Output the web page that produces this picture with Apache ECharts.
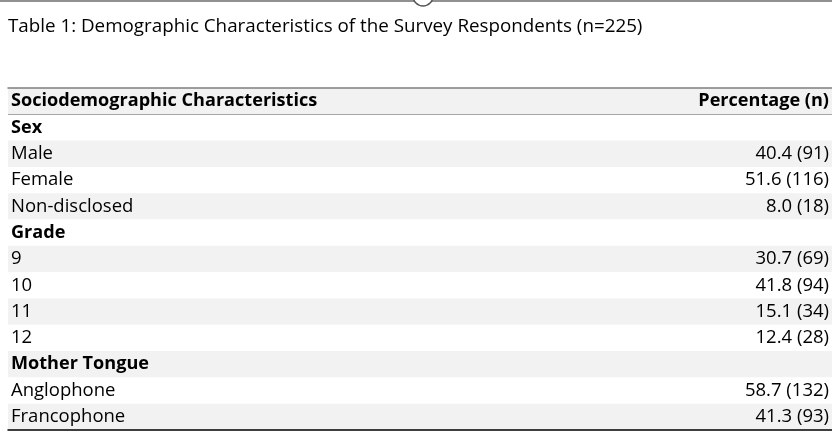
<!DOCTYPE html>
<html>
<head>
<meta charset="utf-8">
<script src="https://cdn.jsdelivr.net/npm/echarts@6/dist/echarts.min.js"></script>
<style>
html,body{margin:0;padding:0;background:#fff;}
#chart{width:832px;height:443px;}
</style>
</head>
<body>
<div id="chart"></div>
<script>
// ---- data ----
const titleText = 'Table 1: Demographic Characteristics of the Survey Respondents (n=225)';
const headerLeft = 'Sociodemographic Characteristics';
const headerRight = 'Percentage (n)';
const rowLabels = ['Sex', 'Male', 'Female', 'Non-disclosed', 'Grade', '9', '10', '11', '12', 'Mother Tongue', 'Anglophone', 'Francophone'];
const groupRows = ['Sex', 'Grade', 'Mother Tongue'];
const percentages = [null, 40.4, 51.6, 8.0, null, 30.7, 41.8, 15.1, 12.4, null, 58.7, 41.3];
const counts = [null, 91, 116, 18, null, 69, 94, 34, 28, null, 132, 93];

// ---- build ----
const leftCol = [headerLeft].concat(rowLabels);
const rightCol = [headerRight].concat(rowLabels.map((r, i) =>
  percentages[i] == null ? '' : percentages[i].toFixed(1) + ' (' + counts[i] + ')'));
const boldSet = new Set([headerLeft, headerRight].concat(groupRows));
const FONT = '"Open Sans", sans-serif';
const FS = 18.5;
const rich = {
  b: { fontFamily: FONT, fontSize: 18.1, fontWeight: 'bold', color: '#000' }
};
// only the rule under the header row is drawn
const ruleColors = leftCol.map((_, i) => i === 1 ? '#a6a6a6' : 'rgba(0,0,0,0)').concat(['rgba(0,0,0,0)']);

const chart = echarts.init(document.getElementById('chart'), null, { renderer: 'canvas' });
chart.setOption({
  animation: false,
  backgroundColor: '#fff',
  title: {
    text: titleText,
    left: 3,
    top: 12,
    textStyle: { fontFamily: FONT, fontSize: 18.8, fontWeight: 'normal', color: '#000' }
  },
  graphic: [
    { type: 'line', shape: { x1: 0, y1: 1, x2: 832, y2: 1 }, style: { stroke: '#6d6d6d', lineWidth: 1.5 } },
    { type: 'circle', shape: { cx: 423, cy: -4, r: 10 }, style: { fill: '#fff', stroke: '#555', lineWidth: 1.5 } }
  ],
  grid: { left: 8, right: 0, top: 88, bottom: 13, containLabel: false },
  xAxis: [
    { type: 'value', position: 'top', min: 0, max: 100,
      axisLine: { show: true, lineStyle: { color: '#7f7f7f', width: 1.5 } },
      axisTick: { show: false }, axisLabel: { show: false }, splitLine: { show: false } },
    { type: 'value', position: 'bottom', min: 0, max: 100,
      axisLine: { show: true, onZero: false, lineStyle: { color: '#000', width: 1.5 } },
      axisTick: { show: false }, axisLabel: { show: false }, splitLine: { show: false } }
  ],
  yAxis: [
    { type: 'category', inverse: true, position: 'left', data: leftCol,
      axisLine: { show: false }, axisTick: { show: false },
      axisLabel: {
        inside: true, margin: 3, align: 'left',
        fontFamily: FONT, fontSize: FS, color: '#000',
        formatter: v => boldSet.has(v) ? '{b|' + v + '}' : v,
        rich: rich
      },
      splitArea: { show: true, interval: 0, areaStyle: { color: ['#f2f2f2', '#ffffff'] } },
      splitLine: { show: true, interval: 0, lineStyle: { color: ruleColors, width: 1 } }
    },
    { type: 'category', inverse: true, position: 'right', data: rightCol,
      axisLine: { show: false }, axisTick: { show: false },
      axisLabel: {
        inside: true, margin: 3, align: 'right',
        fontFamily: FONT, fontSize: FS, color: '#000',
        formatter: v => boldSet.has(v) ? '{b|' + v + '}' : v,
        rich: rich
      },
      splitLine: { show: false }
    }
  ],
  series: [{
    type: 'scatter', xAxisIndex: 0, yAxisIndex: 0, symbolSize: 0, silent: true,
    data: percentages.map((p, i) => [p == null ? 0 : p, rowLabels[i]])
  }]
});
</script>
</body>
</html>
